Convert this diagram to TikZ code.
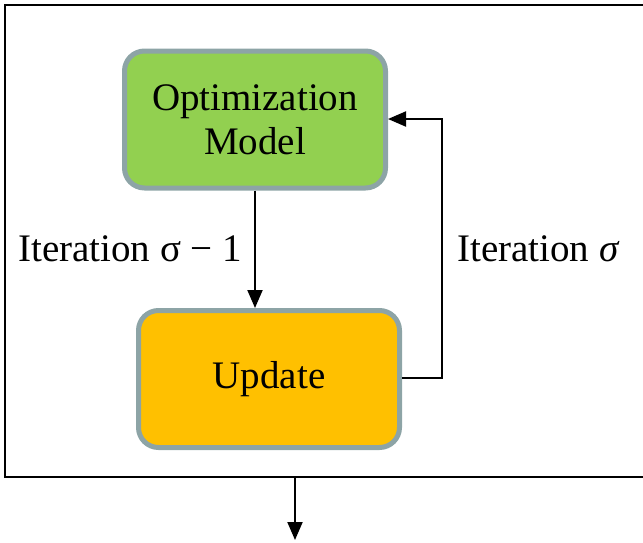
\documentclass[tikz,border=0pt]{standalone}
\usepackage{fontspec}
\setmainfont{Liberation Serif}
\usetikzlibrary{arrows.meta}
\definecolor{boxedge}{HTML}{8DA4A6}
\definecolor{modelgreen}{HTML}{92D050}
\definecolor{updateorange}{HTML}{FFC000}
\tikzset{
  stage/.style={draw=boxedge, line width=5pt, rounded corners=20pt,
    minimum width=261pt, minimum height=137pt, inner sep=0pt,
    align=center, font=\fontsize{39}{44}\selectfont},
  flow/.style={line width=2pt, -{Triangle[length=18pt,width=15pt]}},
  lbl/.style={font=\fontsize{39}{44}\selectfont, inner sep=0pt, anchor=base}
}
\begin{document}
\begin{tikzpicture}[x=1pt, y=-1pt]
  \useasboundingbox (0,0) rectangle (643,542);
  % open frame around the loop
  \draw[line width=2pt] (643,5) -- (5,5) -- (5,477) -- (643,477);
  % stages
  \node[stage, fill=modelgreen] (model) at (255,119.5) {Optimization\\Model};
  \node[stage, fill=updateorange] (update) at (269,379) {\raisebox{-5pt}{Update}};
  % connectors
  \draw[flow] (model.south -| 255,0) -- (update.north -| 255,0);
  \coordinate (bend) at (442,378);
  \draw[flow] (update.east |- bend) -- (bend) |- (model.east |- 0,119);
  \coordinate (outtop) at (295,477);
  \coordinate (outend) at (295,540);
  \draw[flow] (outtop) -- (outend);
  % labels
  \node[lbl, anchor=base west] (lowerlbl) at (18,261) {Iteration σ − 1};
  \node[lbl, anchor=base west] (upperlbl) at (457,261) {Iteration \textit{σ}};
\end{tikzpicture}
\end{document}
